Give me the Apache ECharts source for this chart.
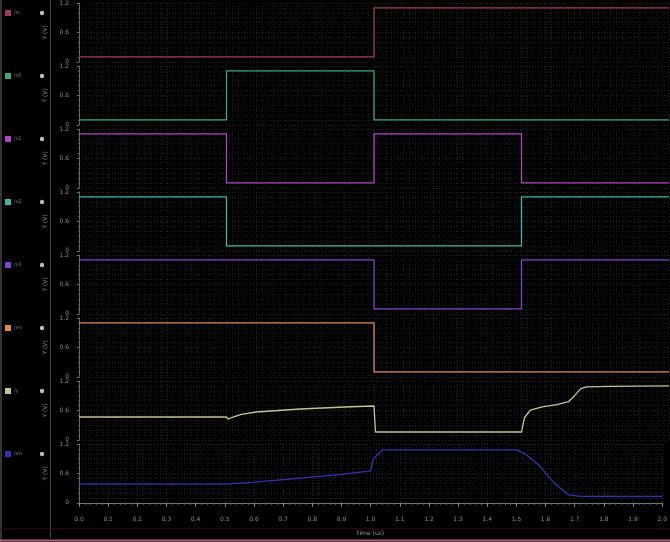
<!DOCTYPE html>
<html><head><meta charset="utf-8">
<script src="https://cdn.jsdelivr.net/npm/echarts@6/dist/echarts.min.js"></script>
<style>html,body{margin:0;padding:0;background:#000;}#c{width:670px;height:542px;}</style>
</head><body><div id="c"></div>
<script>
// ---- data ----
const signalNames = ['/in', '/s0', '/s1', '/s2', '/s3', '/en', '/y', '/vo'];
const signalColors = ['#a03a58', '#3aa882', '#b044c4', '#3ab8a8', '#7a44cc', '#d88a5a', '#c4c48c', '#3232b0'];
const yTickLabels = ['0', '0.6', '1.2'];
const timeMin = 0, timeMax = 2.0, timeStep = 0.1;

const sig1T = [0, 1.0, 1.0, 2.0];
const sig1V = [0.1, 0.1, 1.1, 1.1];
const sig2T = [0, 0.5, 0.5, 1.0, 1.0, 2.0];
const sig2V = [0.1, 0.1, 1.1, 1.1, 0.1, 0.1];
const sig3T = [0, 0.5, 0.5, 1.0, 1.0, 1.5, 1.5, 2.0];
const sig3V = [1.1, 1.1, 0.1, 0.1, 1.1, 1.1, 0.1, 0.1];
const sig4T = [0, 0.5, 0.5, 1.5, 1.5, 2.0];
const sig4V = [1.1, 1.1, 0.1, 0.1, 1.1, 1.1];
const sig5T = [0, 1.0, 1.0, 1.5, 1.5, 2.0];
const sig5V = [1.1, 1.1, 0.1, 0.1, 1.1, 1.1];
const sig6T = [0, 1.0, 1.0, 2.0];
const sig6V = [1.1, 1.1, 0.1, 0.1];
const sig7T = [0, 0.5, 0.505, 0.52, 0.55, 0.6, 0.75, 0.9, 1.0, 1.005, 1.5, 1.51, 1.53, 1.57, 1.62, 1.66, 1.68, 1.70, 1.72, 1.8, 2.0];
const sig7V = [0.465, 0.465, 0.424, 0.46, 0.52, 0.567, 0.629, 0.669, 0.69, 0.159, 0.159, 0.45, 0.608, 0.67, 0.72, 0.78, 0.9, 1.04, 1.08, 1.09, 1.10];
const sig8T = [0, 0.5, 0.6, 0.75, 0.9, 1.0, 1.01, 1.04, 1.5, 1.53, 1.58, 1.63, 1.68, 1.72, 2.0];
const sig8V = [0.38, 0.38, 0.42, 0.50, 0.58, 0.65, 0.9, 1.08, 1.08, 1.0, 0.75, 0.4, 0.16, 0.13, 0.13];

const sigT = [sig1T, sig2T, sig3T, sig4T, sig5T, sig6T, sig7T, sig8T];
const sigV = [sig1V, sig2V, sig3V, sig4V, sig5V, sig6V, sig7V, sig8V];

// ---- layout ----
const N = 8, TOP0 = 3, STEP = 63, H = 58.8, LEFT = 79, RIGHT = 1;
const grids = [], xAxes = [], yAxes = [], series = [], graphics = [];
for (let i = 0; i < N; i++) {
  const last = i === N - 1;
  grids.push({ left: LEFT, right: RIGHT, top: TOP0 + STEP * i, height: H });
  xAxes.push({
    type: 'value', gridIndex: i, min: timeMin, max: timeMax, interval: timeStep,
    axisLine: { show: last, lineStyle: { color: '#777', width: 1 } },
    axisTick: { show: last, length: 4, lineStyle: { color: '#888' } },
    minorTick: { show: last, splitNumber: 5, length: 2, lineStyle: { color: '#666' } },
    axisLabel: { show: last, color: '#5e9e98', fontSize: 6, margin: 14, fontFamily: 'DejaVu Sans',
      formatter: v => v.toFixed(1) },
    splitLine: { show: true, lineStyle: { color: '#262626', type: [1, 2], width: 1 } },
    minorSplitLine: { show: true, lineStyle: { color: '#1d1d1d', type: [1, 2], width: 1 } },
    name: last ? 'time (us)' : '', nameLocation: 'middle', nameGap: 28,
    nameTextStyle: { color: '#9a9a9a', fontSize: 6, fontFamily: 'DejaVu Sans' }
  });
  yAxes.push({
    type: 'value', gridIndex: i, min: 0, max: 1.2, interval: 0.6, offset: 5,
    axisLine: { show: true, lineStyle: { color: '#666' } },
    axisTick: { show: true, length: 2, lineStyle: { color: '#777' } },
    minorTick: { show: true, splitNumber: 6, length: 1, lineStyle: { color: '#555' } },
    axisLabel: { color: '#8a8a8a', fontSize: 6, margin: 5, fontFamily: 'DejaVu Sans',
      formatter: v => yTickLabels[Math.round(v / 0.6)] },
    splitLine: { show: true, lineStyle: { color: '#262626', type: [1, 2] } },
    minorSplitLine: { show: true, lineStyle: { color: '#1d1d1d', type: [1, 2] } },
    name: 'Y (V)', nameLocation: 'middle', nameGap: 15, nameRotate: 90,
    nameTextStyle: { color: '#8a8a8a', fontSize: 6, fontFamily: 'DejaVu Sans' }
  });
  series.push({
    type: 'line', xAxisIndex: i, yAxisIndex: i, showSymbol: false, animation: false,
    lineStyle: { color: signalColors[i], width: 1.3 },
    data: sigT[i].map((t, k) => [t, sigV[i][k]])
  });
  const cy = 13 + STEP * i;
  graphics.push({ type: 'rect', shape: { x: 5, y: cy - 3, width: 6, height: 6 }, style: { fill: signalColors[i] } });
  graphics.push({ type: 'text', x: 14, y: cy - 3, style: { text: signalNames[i], fill: '#7a7a7a', fontSize: 5, fontFamily: 'DejaVu Sans' } });
  graphics.push({ type: 'circle', shape: { cx: 42, cy: cy, r: 2.2 }, style: { fill: '#bbbbbb' } });
}
graphics.push({ type: 'line', shape: { x1: 50.5, y1: 0, x2: 50.5, y2: 538 }, style: { stroke: '#444', lineWidth: 1 } });
graphics.push({ type: 'line', shape: { x1: 1, y1: 0, x2: 1, y2: 542 }, style: { stroke: '#666', lineWidth: 1 } });
graphics.push({ type: 'line', shape: { x1: 0, y1: 529, x2: 670, y2: 529 }, style: { stroke: '#3a0a16', lineWidth: 1 } });
graphics.push({ type: 'line', shape: { x1: 0, y1: 540.5, x2: 670, y2: 540.5 }, style: { stroke: '#b06080', lineWidth: 2 } });

const chart = echarts.init(document.getElementById('c'), null, { renderer: 'canvas' });
chart.setOption({
  backgroundColor: '#000', animation: false,
  grid: grids, xAxis: xAxes, yAxis: yAxes, series: series, graphic: graphics
});
</script></body></html>
